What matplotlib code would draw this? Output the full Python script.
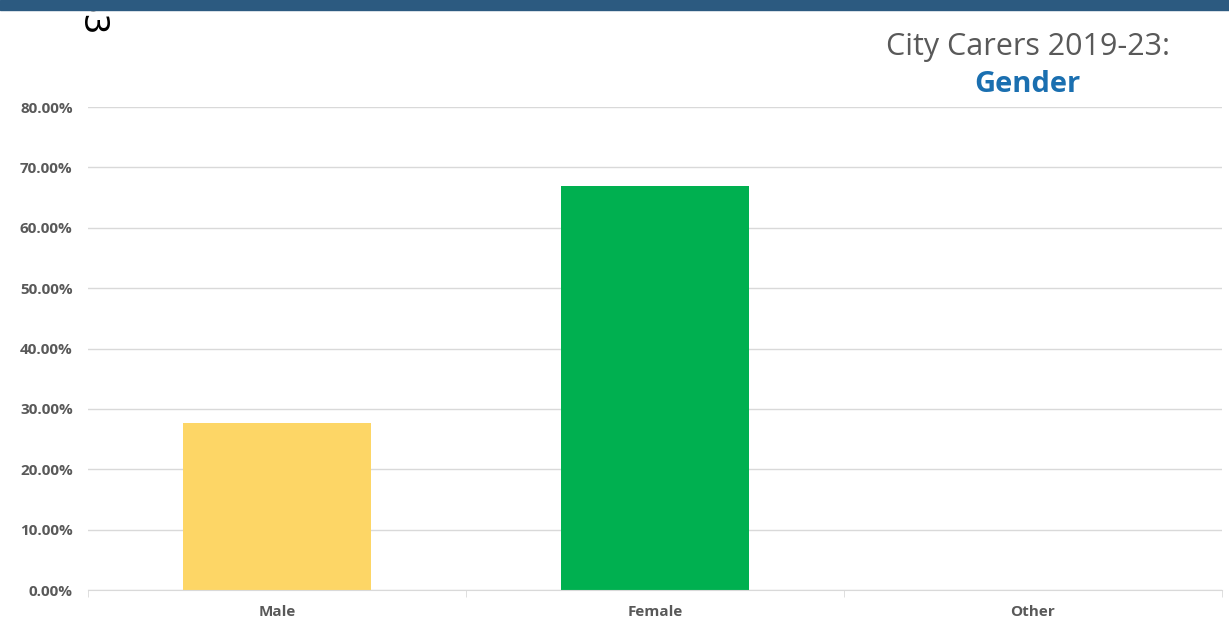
import matplotlib.pyplot as plt
from matplotlib.patches import Rectangle
from matplotlib.ticker import FuncFormatter

categories = ['Male', 'Female', 'Other']
shares = [0.2765, 0.669, 0.0]
colors = ['#fdd666', '#00b050', '#a5a5a5']
yticks = [0, 0.1, 0.2, 0.3, 0.4, 0.5, 0.6, 0.7, 0.8]

plt.rcParams['font.family'] = ['Open Sans', 'DejaVu Sans']

fig = plt.figure(figsize=(12.29, 6.34), dpi=100)
ax = fig.add_axes([0.0716, 0.0694, 0.9227, 0.7618])

# dark banner at the top of the slide, drawn over the page number
fig.patches.append(Rectangle((0, 0.984), 1, 0.016, transform=fig.transFigure,
                             color='#2c5a80', zorder=5))
fig.text(0.074, 0.943, '53', rotation=-90, fontsize=24, color='black',
         family='DejaVu Sans', ha='center', va='bottom', zorder=3)

x = range(len(categories))
ax.bar(x, shares, width=0.495, color=colors, zorder=2)

ax.set_xlim(-0.5, 2.5)
ax.set_ylim(0, 0.8)
ax.set_yticks(yticks)
ax.yaxis.set_major_formatter(FuncFormatter(lambda v, p: f'{v*100:.2f}%'))
ax.grid(axis='y', color='#d9d9d9', linewidth=1, zorder=0)

ax.set_xticks(list(x))
ax.set_xticklabels(categories)
ax.set_xticks([-0.5, 0.5, 1.5, 2.5], minor=True)
ax.tick_params(axis='x', which='major', length=0, pad=11)
ax.tick_params(axis='x', which='minor', length=5, color='#d9d9d9', direction='out')
ax.tick_params(axis='y', length=0, pad=11)
for lbl in ax.get_xticklabels() + ax.get_yticklabels():
    lbl.set_fontsize(11)
    lbl.set_fontweight('bold')
    lbl.set_color('#595959')

for s in ['top', 'right', 'left']:
    ax.spines[s].set_visible(False)
ax.spines['bottom'].set_color('#d9d9d9')

fig.text(0.952, 0.926, 'City Carers 2019-23:', fontsize=22, color='#595959',
         ha='right', va='center')
fig.text(0.836, 0.866, 'Gender', fontsize=21, color='#1a6fb0', fontweight='bold',
         ha='center', va='center')

fig.savefig('out.png', dpi=100)
